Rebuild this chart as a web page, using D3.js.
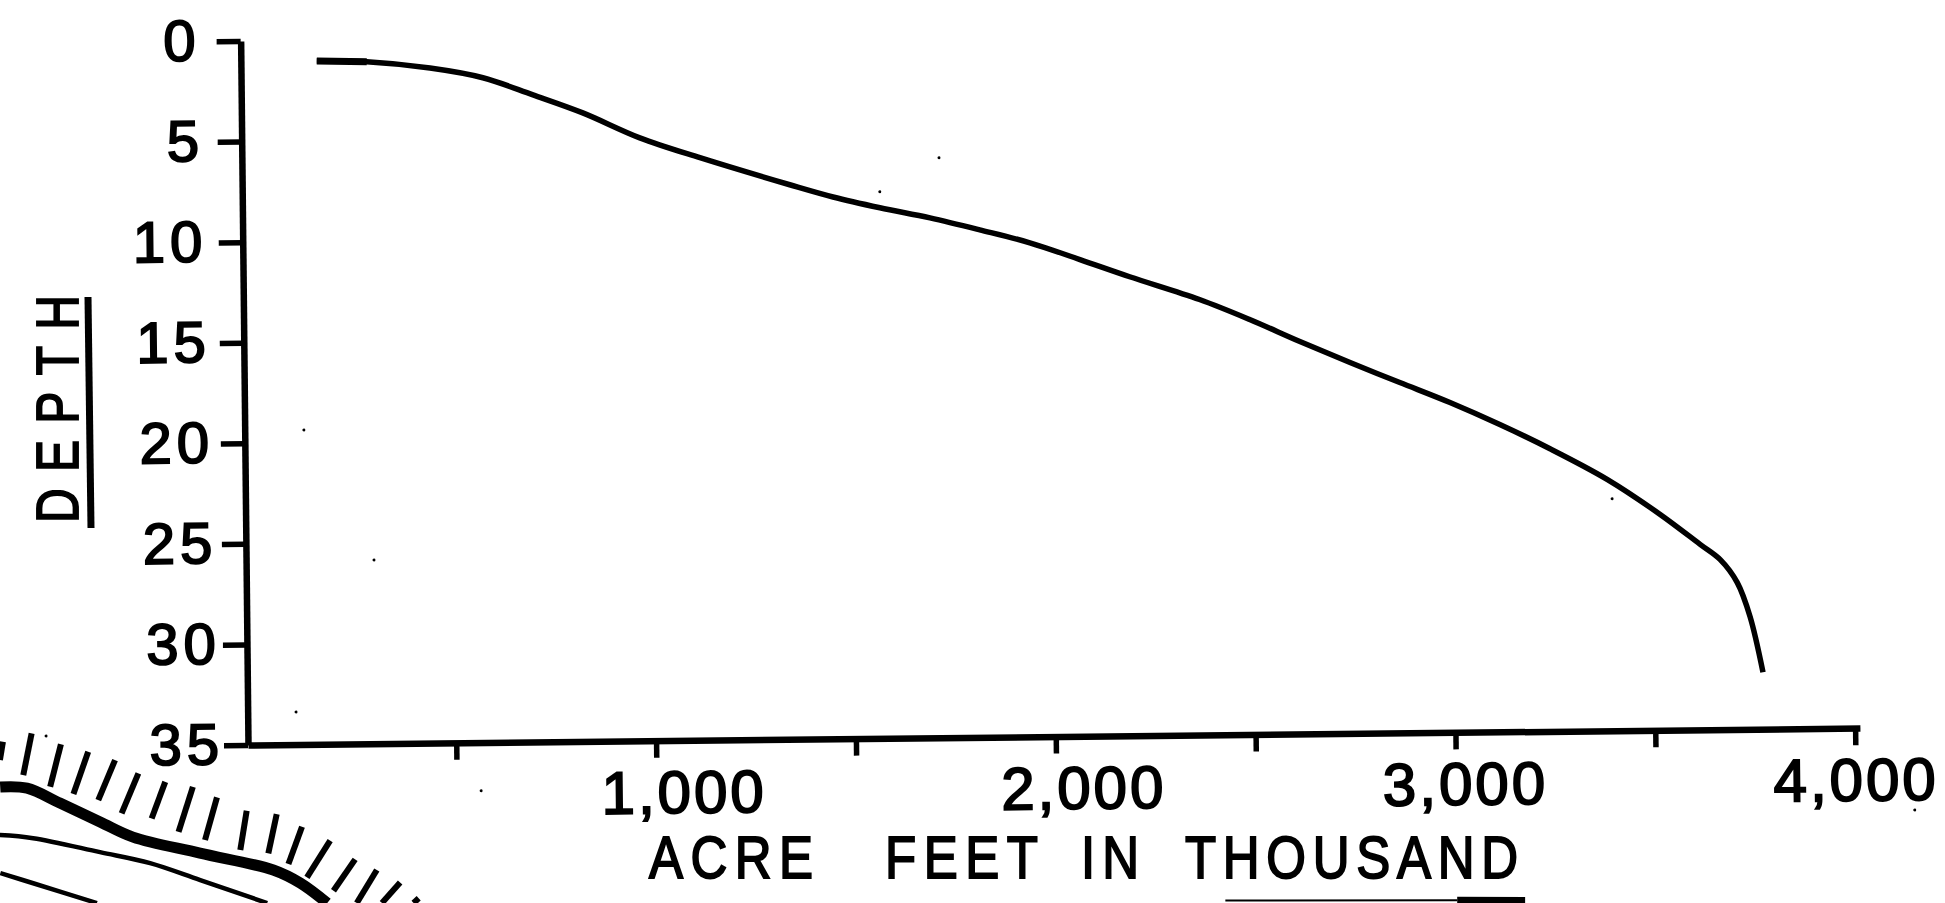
<!DOCTYPE html>
<html>
<head>
<meta charset="utf-8">
<script src="https://d3js.org/d3.v7.min.js"></script>
<style>
    body { margin: 0; background: white; }
    text { font-family: "Liberation Sans", sans-serif; fill: black; stroke: black; stroke-width: 1.9px; }
</style>
</head>
<body>
<div id="chart-area"></div>
<script>
// curve
const acreFeet = [169, 294, 452, 584, 709, 833, 975, 1125, 1349, 1457, 1574, 1699, 1823, 1948, 2073, 2197, 2371, 2496, 2621, 2746, 2870, 2995, 3119, 3244, 3386, 3517, 3617, 3667, 3709, 3740, 3771];
const depth = [1.03, 1.1, 1.44, 1.95, 2.83, 3.75, 5.02, 6.04, 7.43, 8.06, 8.62, 9.15, 9.77, 10.44, 11.3, 12.18, 13.35, 14.37, 15.49, 16.56, 17.58, 18.6, 19.72, 20.95, 22.5, 24.26, 25.78, 26.55, 27.7, 29.39, 32.17];

const depthTicks = [0, 5, 10, 15, 20, 25, 30, 35];
const acreTicks = [500, 1000, 1500, 2000, 2500, 3000, 3500, 4000];

// labels sit unevenly under the ticks in the original
const acreLabelShift = { 1000: 27, 2000: 27, 3000: 9, 4000: 0 };

const titleWords = ["ACRE", "FEET", "IN", "THOUSAND"];

// piece of a map that was cut off at the bottom left of the scan, in chart units
const scrapThick = [[-642, 36.96], [-575, 37.03], [-493, 37.79], [-393, 38.75], [-311, 39.52], [-144, 40.35], [39, 41.23], [106, 41.89], [173, 42.9]];
const scrapThin1 = [[-644, 39.35], [-561, 39.52], [-394, 40.25], [-269, 40.82], [-144, 41.69], [23, 42.87]];
const scrapThin2 = [[-644, 41.24], [-562, 41.76], [-403, 42.78]];
const hachures = [
    [-634, 34.71, -642, 35.62], [-562, 34.31, -584, 36.38], [-489, 34.86, -517, 36.97], [-421, 35.25, -459, 37.35],
    [-354, 35.68, -397, 37.66], [-296, 36.35, -339, 38.33], [-229, 36.79, -264, 38.6], [-160, 37.05, -197, 39.28],
    [-100, 37.59, -131, 39.7], [-26, 38.27, -43, 40.22], [49, 38.45, 27, 40.4], [112, 39.09, 77, 40.94],
    [182, 39.8, 123, 41.61], [244, 40.74, 189, 42.29], [298, 41.28, 247, 42.91], [356, 41.92, 310, 42.92], [402, 42.71, 389, 42.94]
];
const bottomThin = [[2420, 43.24], [3000, 43.35]];
const bottomThick = [[3000, 43.35], [3170, 43.39]];
const specks = [[1723, 6.17], [1574, 7.82], [127, 19.37], [299, 25.87], [100, 33.38], [561, 37.4], [3398, 23.47], [4147, 39.1], [-526, 34.45]];

let margin = { top: 41, left: 248 };
let width = 1612, height = 704;

let svg = d3.select("#chart-area").append("svg")
    .attr("width", 1945)
    .attr("height", 903)
    .style("display", "block");

// the page was scanned slightly crooked
let g = svg.append("g")
    .attr("transform", "rotate(-0.6," + margin.left + "," + (margin.top + height) + ") translate(" + margin.left + "," + margin.top + ")");

let x = d3.scaleLinear().domain([-21, 4012]).range([0, width]);
let y = d3.scaleLinear().domain([0, 35]).range([0, height]);

let yAxis = d3.axisLeft(y).tickValues(depthTicks).tickSize(24).tickSizeOuter(0);
let xAxis = d3.axisBottom(x).tickValues(acreTicks).tickSize(17).tickSizeOuter(0)
    .tickPadding(13)
    .tickFormat(d => d % 1000 === 0 ? d3.format(",")(d) : "");

let yG = g.append("g").attr("class", "y-axis").call(yAxis);
let xG = g.append("g").attr("class", "x-axis").attr("transform", "translate(0," + height + ")").call(xAxis);

g.selectAll(".domain").attr("stroke", "black").attr("stroke-width", 6.5);
g.selectAll(".tick line").attr("stroke", "black").attr("stroke-width", 5.5);

yG.selectAll(".tick text")
    .attr("font-size", 58)
    .style("letter-spacing", "5px")
    .attr("x", d => -(40 - 0.46 * d));
xG.selectAll(".tick text")
    .attr("font-size", 60)
    .style("letter-spacing", "3px")
    .attr("dx", d => acreLabelShift[d] || 0);

// main curve, the pen starts out heavier
let line = d3.line()
    .x(d => x(d[0]))
    .y(d => y(d[1]))
    .curve(d3.curveCatmullRom);

let curve = acreFeet.map((v, i) => [v, depth[i]]);

g.append("path")
    .datum(curve)
    .attr("d", line)
    .attr("fill", "none")
    .attr("stroke", "black")
    .attr("stroke-width", 5.5);

g.append("path")
    .datum(curve.slice(0, 2))
    .attr("d", line)
    .attr("fill", "none")
    .attr("stroke", "black")
    .attr("stroke-width", 7);

// axis titles, each word placed on its own because the gaps are uneven
let titleX = d3.scaleOrdinal().domain(titleWords).range([649, 885, 1081, 1185]);
let titleLen = d3.scaleOrdinal().domain(titleWords).range([164, 153, 58, 333]);

svg.selectAll(".title-word")
    .data(titleWords)
    .enter().append("text")
    .attr("class", "title-word")
    .attr("transform", d => "translate(" + titleX(d) + ",878) scale(0.85,1)")
    .attr("font-size", 60)
    .attr("textLength", d => titleLen(d) / 0.85)
    .attr("lengthAdjust", "spacing")
    .text(d => d);

svg.append("text")
    .attr("transform", "translate(78,523) rotate(-90) scale(0.8,1)")
    .attr("font-size", 60)
    .attr("textLength", 285)
    .attr("lengthAdjust", "spacing")
    .text("DEPTH");

// underline of the depth title
svg.append("line")
    .attr("x1", 88).attr("y1", 297)
    .attr("x2", 91).attr("y2", 528)
    .attr("stroke", "black")
    .attr("stroke-width", 7);

// map scrap and dirt from the scan
[[scrapThick, 11], [scrapThin1, 4.5], [scrapThin2, 4.5], [bottomThin, 2], [bottomThick, 7]].forEach(function (s) {
    g.append("path")
        .datum(s[0])
        .attr("d", line)
        .attr("fill", "none")
        .attr("stroke", "black")
        .attr("stroke-width", s[1]);
});

g.selectAll(".hachure")
    .data(hachures)
    .enter().append("line")
    .attr("class", "hachure")
    .attr("x1", d => x(d[0]))
    .attr("y1", d => y(d[1]))
    .attr("x2", d => x(d[2]))
    .attr("y2", d => y(d[3]))
    .attr("stroke", "black")
    .attr("stroke-width", 6);

g.selectAll(".speck")
    .data(specks)
    .enter().append("circle")
    .attr("class", "speck")
    .attr("cx", d => x(d[0]))
    .attr("cy", d => y(d[1]))
    .attr("r", 1.5)
    .attr("fill", "black");
</script>
</body>
</html>
